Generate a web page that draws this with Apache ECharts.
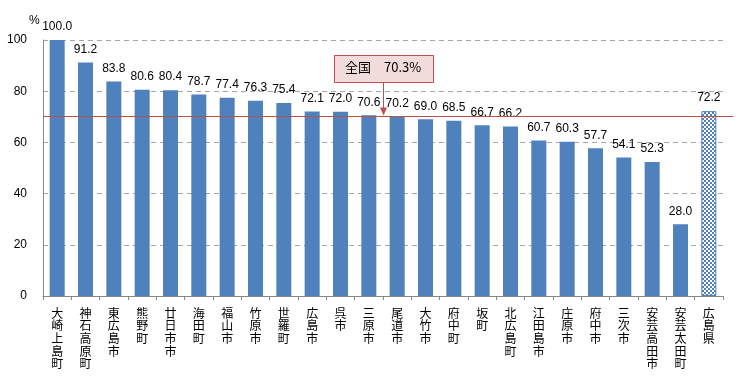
<!DOCTYPE html>
<html><head><meta charset="utf-8">
<script src="https://cdn.jsdelivr.net/npm/echarts@6/dist/echarts.min.js"></script>
<style>html,body{margin:0;padding:0;background:#fff}#c{width:756px;height:379px}</style>
</head><body><div id="c"></div>
<script>
const categories = ['大崎上島町','神石高原町','東広島市','熊野町','廿日市市','海田町','福山市','竹原市','世羅町','広島市','呉市','三原市','尾道市','大竹市','府中町','坂町','北広島町','江田島市','庄原市','府中市','三次市','安芸高田市','安芸太田町','広島県'];
const values = [100.0,91.2,83.8,80.6,80.4,78.7,77.4,76.3,75.4,72.1,72.0,70.6,70.2,69.0,68.5,66.7,66.2,60.7,60.3,57.7,54.1,52.3,28.0,72.2];
const nationalValue = 70.3;
const nationalLabel = '全国　70.3%';
const yTicks = [0,20,40,60,80,100];

const pc = document.createElement('canvas');
pc.width = 4; pc.height = 4;
const pctx = pc.getContext('2d');
pctx.fillStyle = '#ffffff'; pctx.fillRect(0,0,4,4);
pctx.fillStyle = '#4f81bd';
pctx.fillRect(0,0,2,2); pctx.fillRect(2,2,2,2);

const CJK = '"Noto Sans CJK JP", sans-serif';
const LAT = '"Liberation Sans", Arial, sans-serif';
const chart = echarts.init(document.getElementById('c'), null, {renderer:'canvas'});
const data = values.map((v,i)=> i === values.length-1 ? {value:v, itemStyle:{color:{image:pc, repeat:'repeat'}, borderColor:'#4f81bd', borderWidth:1}} : v);

chart.setOption({
  animation:false,
  grid:{left:43, right:33, top:40, bottom:83, containLabel:false, outerBoundsMode:'none'},
  xAxis:{type:'category', data:categories, boundaryGap:true,
    axisLine:{lineStyle:{color:'#888888'}},
    axisTick:{show:true, alignWithLabel:false, length:4, lineStyle:{color:'#888888'}},
    axisLabel:{interval:0, color:'#000', fontSize:12, fontFamily:CJK, lineHeight:12.6, margin:11,
      formatter: s => s.split('').join('\n')}
  },
  yAxis:{type:'value', min:yTicks[0], max:yTicks[yTicks.length-1], interval:20,
    axisLine:{show:true, lineStyle:{color:'#888888'}},
    axisTick:{show:false},
    splitLine:{lineStyle:{color:'#a6a6a6', type:[5,4]}},
    axisLabel:{color:'#000', fontSize:12, fontFamily:LAT, margin:16}
  },
  series:[{type:'bar', data:data, barWidth:15, itemStyle:{color:'#4f81bd'},
    label:{show:true, position:'top', distance:7, color:'#000', fontSize:12, fontFamily:LAT,
      formatter: p => p.value.toFixed(1)}
  }]
});

const yLine = Math.round(chart.convertToPixel({yAxisIndex:0}, nationalValue)) + 0.5;
const xArrow = 383.5;
chart.setOption({graphic:[
  {type:'text', left:29, top:15, style:{text:'%', fill:'#000', font:'12px "Liberation Sans", sans-serif'}},
  {type:'line', shape:{x1:43, y1:yLine, x2:733, y2:yLine}, style:{stroke:'#b5504d', lineWidth:1}, z:5},
  {type:'rect', shape:{x:334.5, y:55.5, width:99, height:27}, style:{fill:'#f2dcdb', stroke:'#c0504d', lineWidth:1}, z:10},
  {type:'text', x:345, y:61, style:{text:nationalLabel, fill:'#000', font:'13px "Noto Sans CJK JP", sans-serif'}, z:11},
  {type:'line', shape:{x1:xArrow, y1:83, x2:xArrow, y2:yLine-3}, style:{stroke:'#c0504d', lineWidth:1}, z:10},
  {type:'polygon', shape:{points:[[xArrow-3.5,yLine-9],[xArrow+3.5,yLine-9],[xArrow,yLine-1]]}, style:{fill:'#c0504d'}, z:10}
]});
</script></body></html>
